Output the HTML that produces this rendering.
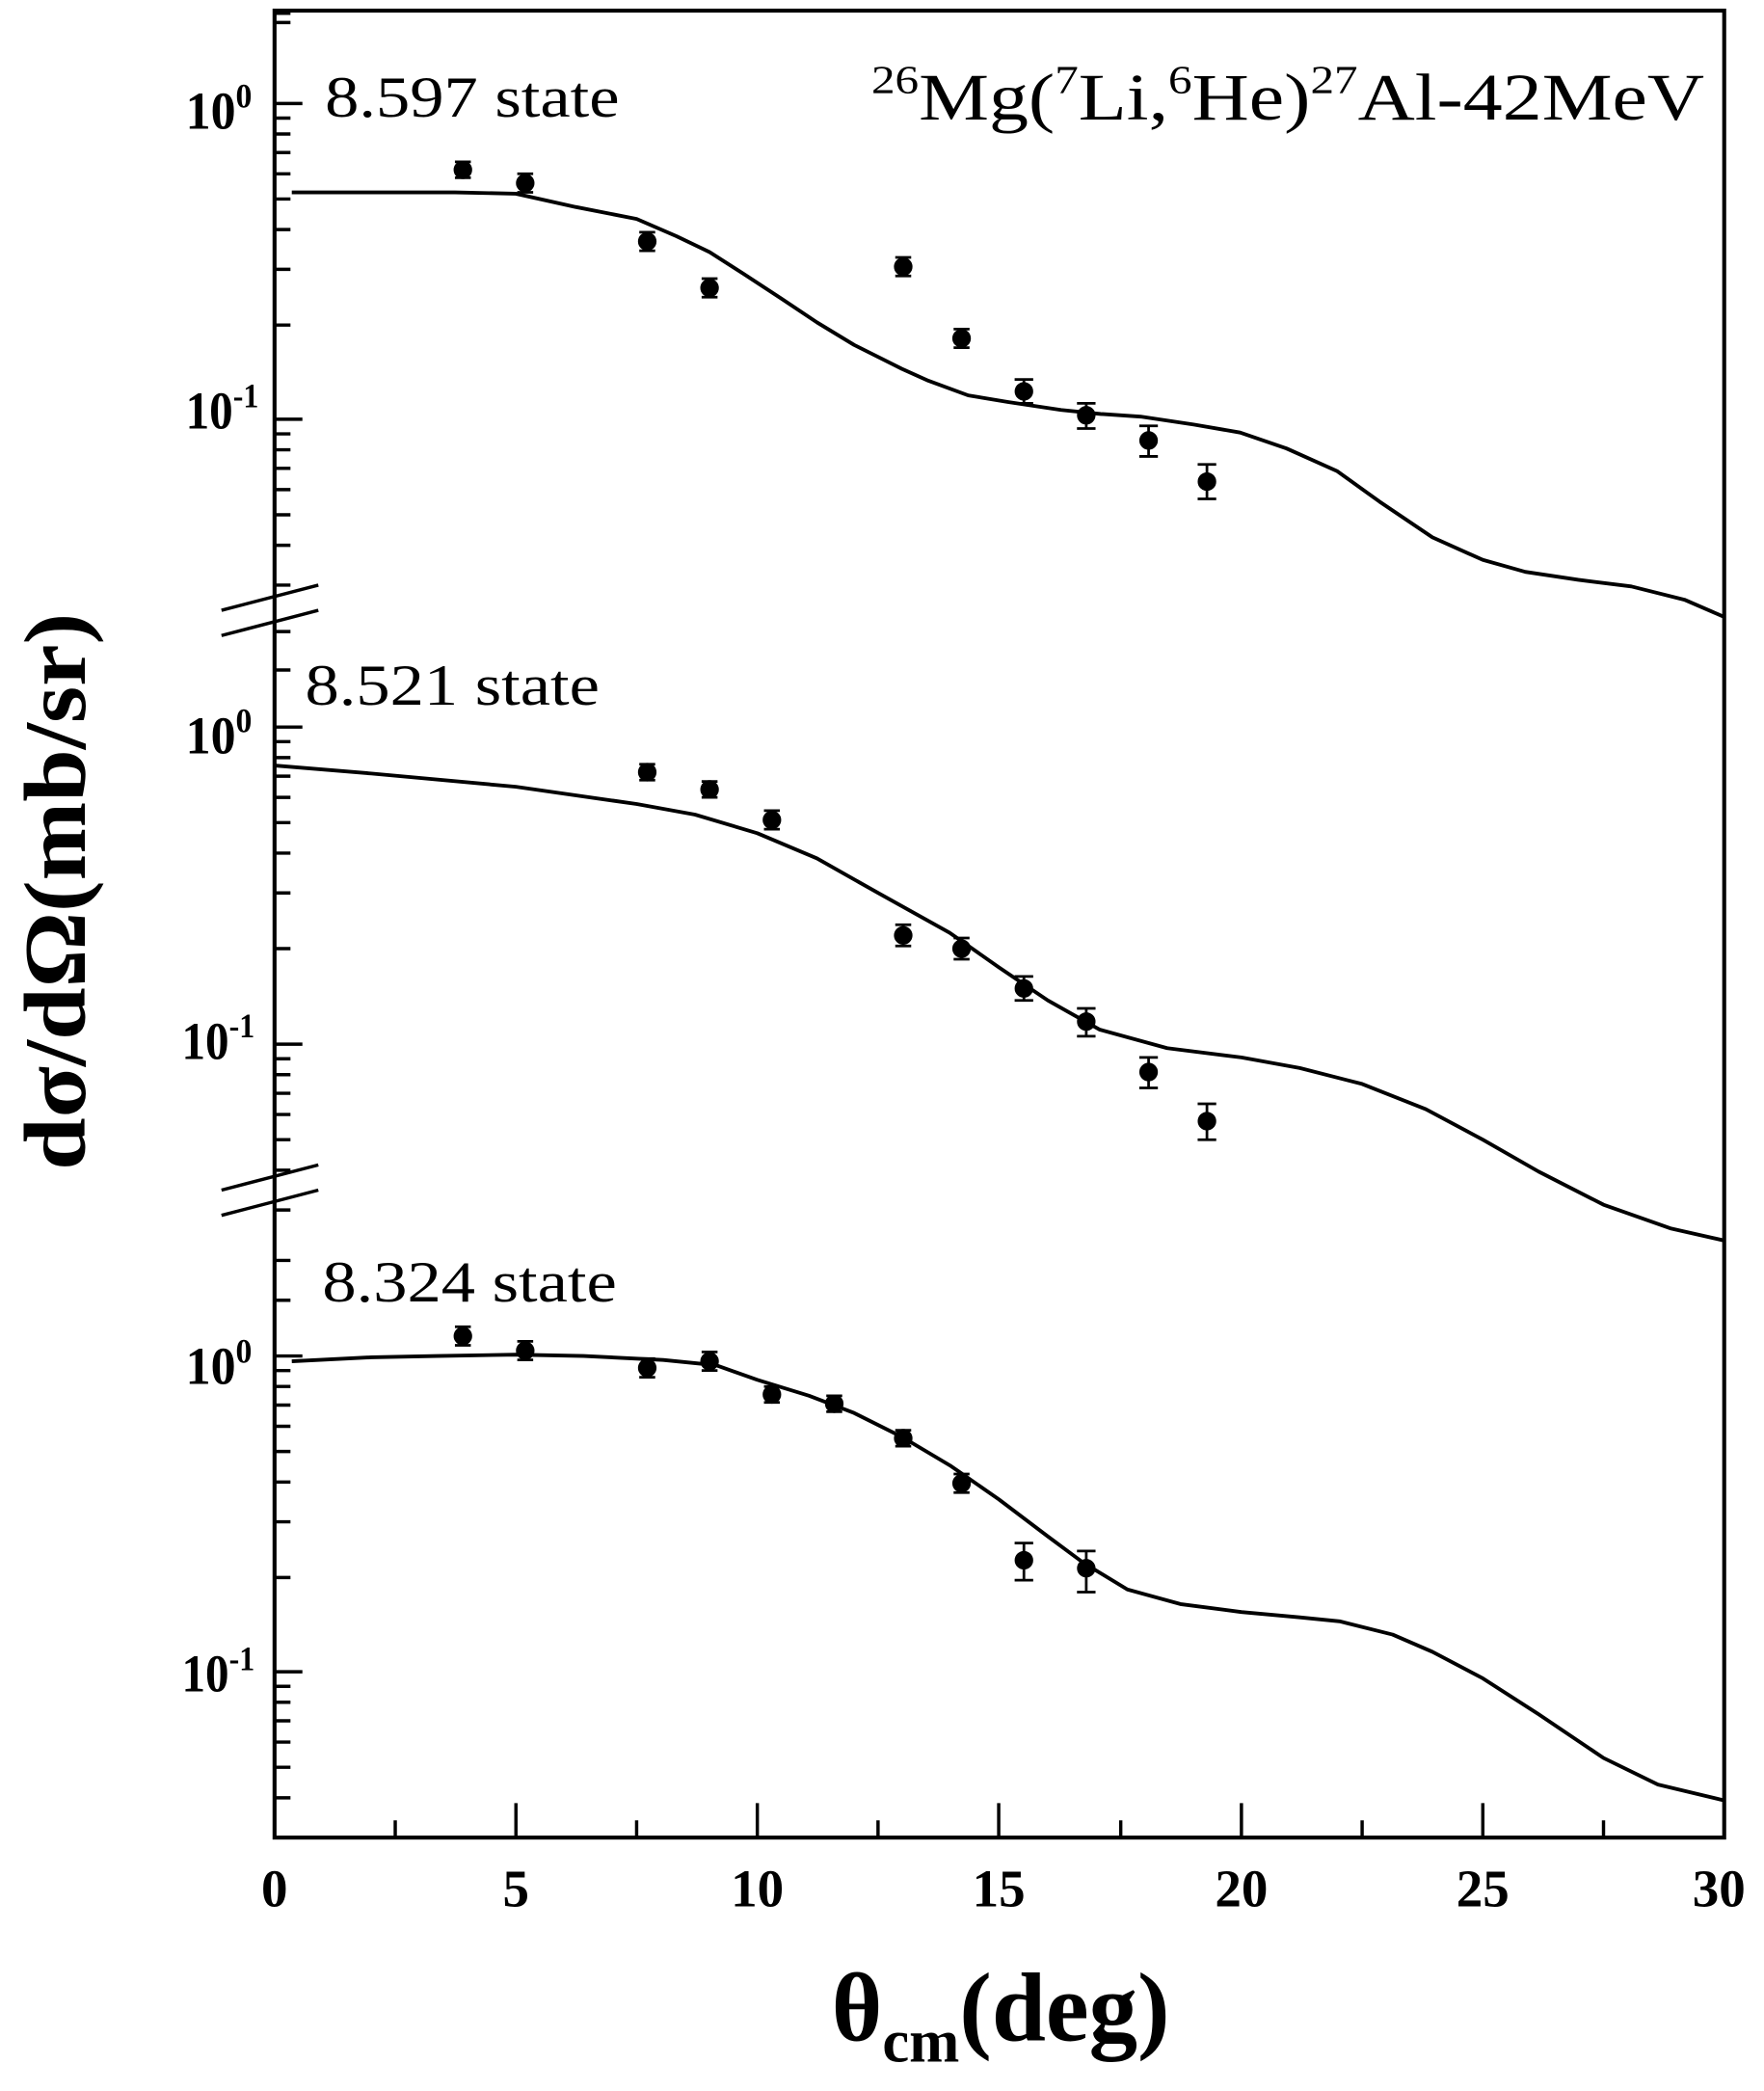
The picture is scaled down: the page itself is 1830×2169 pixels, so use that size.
<!DOCTYPE html>
<html><head><meta charset="utf-8"><style>html,body{margin:0;padding:0;background:#fff}svg{display:block}</style></head>
<body>
<svg width="1830" height="2169" viewBox="0 0 1330 1576" preserveAspectRatio="none" xmlns="http://www.w3.org/2000/svg" font-family="Liberation Serif, serif">
<rect x="0" y="0" width="1330" height="1576" fill="#fff"/>
<g stroke="#000" fill="none">
<rect x="207" y="8" width="1093" height="1377" stroke-width="3"/>
<g stroke-width="2.5">
<path d="M207 78h21M207 316h21M207 548h21M207 787h21M207 1022h21M207 1260h21"/>
<path d="M207 89h12M207 101h12M207 115h12M207 131h12M207 150h12M207 173h12M207 203h12M207 245h12"/>
<path d="M207 327h12M207 339h12M207 353h12M207 369h12M207 388h12M207 411h12M207 441h12"/>
<path d="M207 17h12M207 10h12"/>
<path d="M207 476h12M207 505h12"/>
<path d="M207 559h12M207 571h12M207 585h12M207 601h12M207 620h12M207 643h12M207 673h12M207 715h12"/>
<path d="M207 798h12M207 810h12M207 824h12M207 840h12M207 859h12M207 882h12M207 912h12"/>
<path d="M207 950h12M207 980h12"/>
<path d="M207 1033h12M207 1045h12M207 1059h12M207 1075h12M207 1094h12M207 1117h12M207 1147h12M207 1189h12"/>
<path d="M207 1271h12M207 1283h12M207 1297h12M207 1313h12M207 1332h12M207 1355h12"/>
</g>
<g stroke-width="2.5">
<line x1="167" y1="460" x2="240" y2="441"/>
<line x1="167" y1="479" x2="240" y2="460"/>
<line x1="167" y1="897" x2="240" y2="878"/>
<line x1="167" y1="916" x2="240" y2="897"/>
</g>
<g stroke-width="2.5">
<path d="M389 1385v-26M571 1385v-26M753 1385v-26M936 1385v-26M1118 1385v-26"/>
<path d="M298 1385v-13M480 1385v-13M662 1385v-13M845 1385v-13M1027 1385v-13M1209 1385v-13"/>
</g>
<g stroke-width="2.8" stroke-linejoin="round">
<polyline points="220,145 280,145 343,145 389,146 434,156 480,165 510,178 535,190 560,206 589,225 616,243 644,260 680,278 700,287 730,298 760,303 800,309 830,312 860,314 900,320 935,326 970,338 1008,355 1040,378 1080,405 1118,422 1150,431 1190,437 1230,442 1270,452 1300,465"/>
<polyline points="207,577 280,583 389,593 480,606 524,614 571,628 616,647 662,673 716,703 753,729 790,754 829,776 880,790 936,797 980,805 1027,817 1075,836 1118,859 1160,883 1209,908 1260,926 1300,935"/>
<polyline points="220,1026 280,1023 330,1022 389,1021 440,1022 500,1025 540,1029 571,1040 610,1052 644,1065 680,1083 717,1105 753,1130 790,1158 817,1178 850,1198 890,1209 936,1215 980,1219 1010,1222 1050,1232 1080,1245 1118,1265 1160,1292 1209,1325 1250,1345 1300,1357"/>
</g>
</g>
<g fill="#000" stroke="#000" stroke-width="2">
<g>
<circle cx="349" cy="128" r="6"/><path d="M343 122h12M343 134h12M349 122v12"/>
<circle cx="396" cy="138" r="6"/><path d="M390 131h12M390 145h12M396 131v14"/>
<circle cx="488" cy="182" r="6"/><path d="M482 175h12M482 189h12M488 175v14"/>
<circle cx="535" cy="217" r="6"/><path d="M529 210h12M529 224h12M535 210v14"/>
<circle cx="681" cy="201" r="6"/><path d="M675 194h12M675 208h12M681 194v14"/>
<circle cx="725" cy="255" r="6"/><path d="M719 248h12M719 262h12M725 248v14"/>
<circle cx="772" cy="295" r="6"/><path d="M765 286h14M765 304h14M772 286v18"/>
<circle cx="819" cy="313" r="6"/><path d="M812 304h14M812 323h14M819 304v19"/>
<circle cx="866" cy="332" r="6"/><path d="M859 321h14M859 344h14M866 321v23"/>
<circle cx="910" cy="363" r="6"/><path d="M903 350h14M903 376h14M910 350v26"/>
</g>
<g>
<circle cx="488" cy="582" r="6"/><path d="M482 576h12M482 588h12M488 576v12"/>
<circle cx="535" cy="595" r="6"/><path d="M529 589h12M529 601h12M535 589v12"/>
<circle cx="582" cy="618" r="6"/><path d="M576 611h12M576 625h12M582 611v14"/>
<circle cx="681" cy="705" r="6"/><path d="M675 697h12M675 713h12M681 697v16"/>
<circle cx="725" cy="715" r="6"/><path d="M719 707h12M719 723h12M725 707v16"/>
<circle cx="772" cy="745" r="6"/><path d="M765 736h14M765 754h14M772 736v18"/>
<circle cx="819" cy="770" r="6"/><path d="M812 760h14M812 781h14M819 760v21"/>
<circle cx="866" cy="808" r="6"/><path d="M859 797h14M859 820h14M866 797v23"/>
<circle cx="910" cy="845" r="6"/><path d="M903 832h14M903 859h14M910 832v27"/>
</g>
<g>
<circle cx="349" cy="1007" r="6"/><path d="M343 1000h12M343 1014h12M349 1000v14"/>
<circle cx="396" cy="1018" r="6"/><path d="M390 1011h12M390 1025h12M396 1011v14"/>
<circle cx="488" cy="1031" r="6"/><path d="M482 1024h12M482 1038h12M488 1024v14"/>
<circle cx="535" cy="1026" r="6"/><path d="M529 1019h12M529 1033h12M535 1019v14"/>
<circle cx="582" cy="1051" r="6"/><path d="M576 1045h12M576 1057h12M582 1045v12"/>
<circle cx="629" cy="1058" r="6"/><path d="M623 1052h12M623 1064h12M629 1052v12"/>
<circle cx="681" cy="1084" r="6"/><path d="M675 1078h12M675 1090h12M681 1078v12"/>
<circle cx="725" cy="1118" r="6"/><path d="M719 1111h12M719 1125h12M725 1111v14"/>
<circle cx="772" cy="1176" r="6"/><path d="M765 1163h14M765 1191h14M772 1163v28"/>
<circle cx="819" cy="1182" r="6"/><path d="M812 1169h14M812 1200h14M819 1169v31"/>
</g>
</g>
<g font-size="40" font-weight="bold">
<text x="140" y="97" textLength="50" lengthAdjust="spacingAndGlyphs">10<tspan font-size="26" dy="-16">0</tspan></text>
<text x="140" y="323" textLength="55" lengthAdjust="spacingAndGlyphs">10<tspan font-size="26" dy="-16">-1</tspan></text>
<text x="140" y="568" textLength="50" lengthAdjust="spacingAndGlyphs">10<tspan font-size="26" dy="-16">0</tspan></text>
<text x="137" y="798" textLength="55" lengthAdjust="spacingAndGlyphs">10<tspan font-size="26" dy="-16">-1</tspan></text>
<text x="140" y="1043" textLength="50" lengthAdjust="spacingAndGlyphs">10<tspan font-size="26" dy="-16">0</tspan></text>
<text x="137" y="1275" textLength="55" lengthAdjust="spacingAndGlyphs">10<tspan font-size="26" dy="-16">-1</tspan></text>
</g>
<g font-size="40" font-weight="bold" text-anchor="middle">
<text x="207" y="1437">0</text><text x="389" y="1437">5</text><text x="571" y="1437">10</text><text x="753" y="1437">15</text><text x="936" y="1437">20</text><text x="1118" y="1437">25</text><text x="1296" y="1437">30</text>
</g>
<g font-size="44">
<text x="245" y="88" textLength="222" lengthAdjust="spacingAndGlyphs">8.597 state</text>
<text x="230" y="531" textLength="222" lengthAdjust="spacingAndGlyphs">8.521 state</text>
<text x="243" y="981" textLength="222" lengthAdjust="spacingAndGlyphs">8.324 state</text>
</g>
<text x="657" y="90" font-size="50" textLength="628" lengthAdjust="spacingAndGlyphs"><tspan font-size="30" dy="-20">26</tspan><tspan dy="20">Mg(</tspan><tspan font-size="30" dy="-20">7</tspan><tspan dy="20">Li,</tspan><tspan font-size="30" dy="-20">6</tspan><tspan dy="20">He)</tspan><tspan font-size="30" dy="-20">27</tspan><tspan dy="20">Al-42MeV</tspan></text>
<text x="627" y="1538" font-size="74" font-weight="bold" textLength="255" lengthAdjust="spacingAndGlyphs">θ<tspan font-size="46" dy="16">cm</tspan><tspan dy="-16">(deg)</tspan></text>
<text transform="translate(64,672) rotate(-90)" font-size="66" font-weight="bold" text-anchor="middle" textLength="420" lengthAdjust="spacingAndGlyphs">dσ/dΩ(mb/sr)</text>
</svg>
</body></html>
